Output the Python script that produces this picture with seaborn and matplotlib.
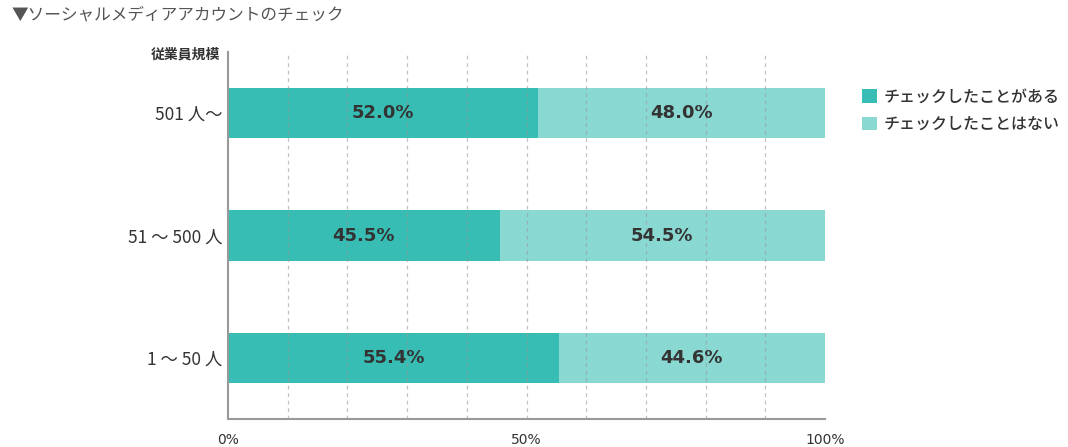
import matplotlib
matplotlib.use("Agg")
import matplotlib.pyplot as plt
import seaborn as sns
import pandas as pd
import numpy as np
from matplotlib.patches import Patch

categories = ["501 人〜", "51 〜 500 人", "1 〜 50 人"]
checked = [52.0, 45.5, 55.4]
not_checked = [48.0, 54.5, 44.6]
series_names = ["チェックしたことがある", "チェックしたことはない"]
xticks = [0, 50, 100]
xtick_labels = ["0%", "50%", "100%"]
title = "▼ソーシャルメディアアカウントのチェック"
ylabel = "従業員規模"

dark = "#37BDB3"
light = "#8AD8D2"
text_dark = "#333333"

sns.set_theme(style="white")
plt.rcParams['font.family'] = ['Noto Sans CJK JP', 'DejaVu Sans']

df = pd.DataFrame({"cat": categories, "yes": checked, "no": not_checked})
df["total"] = df["yes"] + df["no"]

fig = plt.figure(figsize=(10.68, 4.47), dpi=100)
ax = fig.add_axes([0.2135, 0.0626, 0.559, 0.8211])

sns.barplot(data=df, x="total", y="cat", color=light, width=0.41, ax=ax,
            saturation=1, orient="h", zorder=2, linewidth=0)
sns.barplot(data=df, x="yes", y="cat", color=dark, width=0.41, ax=ax,
            saturation=1, orient="h", zorder=2, linewidth=0)

ax.set_xlim(0, 100)
ax.set_ylim(2.5, -0.5)

for i, (y, n) in enumerate(zip(checked, not_checked)):
    ax.text(y / 2, i, f"{y:.1f}%", ha="center", va="center", fontsize=13,
            fontweight="bold", color=text_dark, family="DejaVu Sans", zorder=4)
    ax.text(y + n / 2, i, f"{n:.1f}%", ha="center", va="center", fontsize=13,
            fontweight="bold", color=text_dark, family="DejaVu Sans", zorder=4)

for gx in range(10, 100, 10):
    ax.axvline(gx, color="#999999", linestyle=(0, (3, 3)), linewidth=0.9,
               alpha=0.6, zorder=3)

ax.set_xticks(xticks)
ax.set_xticklabels(xtick_labels, family="DejaVu Sans", fontsize=10, color=text_dark)
ax.tick_params(axis="x", length=0, pad=10)
ax.tick_params(axis="y", length=0, pad=4, labelsize=12.5, labelcolor=text_dark)
ax.set_xlabel("")
ax.set_ylabel("")

for s in ["top", "right"]:
    ax.spines[s].set_visible(False)
for s in ["left", "bottom"]:
    ax.spines[s].set_color("#999999")
    ax.spines[s].set_linewidth(1.5)

fig.text(12 / 1068, 1 - 15 / 447, title, fontsize=12, color="#555555",
         ha="left", va="center")
fig.text(220 / 1068, 1 - 55 / 447, ylabel, fontsize=10, fontweight="bold",
         color=text_dark, ha="right", va="center")

handles = [Patch(facecolor=dark, edgecolor="none"), Patch(facecolor=light, edgecolor="none")]
fig.legend(handles, series_names, loc="upper left", bbox_to_anchor=(856 / 1068, 1 - 82 / 447),
           frameon=False, prop={"size": 11.5, "weight": "medium"}, handlelength=0.9,
           handleheight=0.9, handletextpad=0.4, labelspacing=0.65, labelcolor=text_dark,
           borderaxespad=0, borderpad=0.4)

fig.savefig("out.png", dpi=100)
